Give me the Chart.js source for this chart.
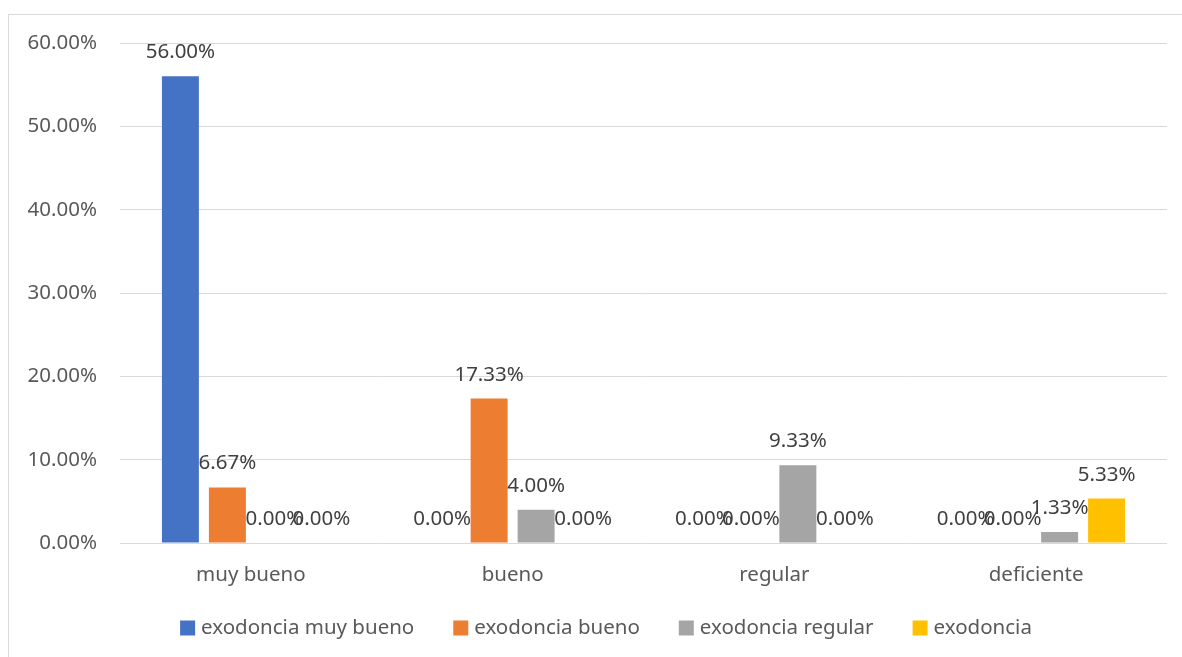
<!DOCTYPE html>
<html>
<head>
<meta charset="utf-8">
<script src="https://cdn.jsdelivr.net/npm/chart.js@4.4.0/dist/chart.umd.min.js"></script>
<style>
  html, body { margin: 0; padding: 0; background: #fff; }
  #wrap { width: 1182px; height: 657px; position: relative; }
</style>
</head>
<body>
<div id="wrap"><canvas id="grafica" width="1182" height="657"></canvas></div>
<script>
// datos
const categorias = ['muy bueno', 'bueno', 'regular', 'deficiente'];
const serieMuyBueno = [56.00, 0, 0, 0];
const serieBueno = [6.67, 17.33, 0, 0];
const serieRegular = [0, 4.00, 9.33, 1.33];
const serieExodoncia = [0, 0, 0, 5.33];
const nombres = ['exodoncia muy bueno', 'exodoncia bueno', 'exodoncia regular', 'exodoncia'];
const colores = ['#4472C4', '#ED7D31', '#A5A5A5', '#FFC000'];
const ticksY = [0, 10, 20, 30, 40, 50, 60];

const FUENTE = '"Noto Sans", "Open Sans", sans-serif';
const TAM = 20.5;

// borde exterior del gráfico
const bordePlugin = {
  id: 'borde',
  beforeDraw(chart) {
    const ctx = chart.ctx;
    ctx.save();
    ctx.strokeStyle = '#d9d9d9';
    ctx.lineWidth = 1;
    ctx.strokeRect(8.5, 14.5, 1200, 700);
    ctx.restore();
  }
};

// etiquetas de valor encima de cada barra
const etiquetasPlugin = {
  id: 'etiquetas',
  afterDatasetsDraw(chart) {
    const ctx = chart.ctx;
    ctx.save();
    ctx.font = TAM + 'px ' + FUENTE;
    ctx.fillStyle = '#404040';
    ctx.textAlign = 'center';
    ctx.textBaseline = 'alphabetic';
    chart.data.datasets.forEach((ds, i) => {
      chart.getDatasetMeta(i).data.forEach((bar, j) => {
        ctx.fillText(ds.data[j].toFixed(2) + '%', bar.x, bar.y - 18);
      });
    });
    ctx.restore();
  }
};

// leyenda abajo, al estilo de Excel
const leyendaPlugin = {
  id: 'leyenda',
  afterDraw(chart) {
    const ctx = chart.ctx;
    ctx.save();
    ctx.font = TAM + 'px ' + FUENTE;
    const caja = 15, hueco = 6, sep = 39;
    const anchos = nombres.map(n => ctx.measureText(n).width);
    const total = anchos.reduce((a, w) => a + caja + hueco + w, 0) + sep * (nombres.length - 1);
    let x = 606 - total / 2;
    const y = 628;
    ctx.textBaseline = 'middle';
    ctx.textAlign = 'left';
    nombres.forEach((n, i) => {
      ctx.fillStyle = colores[i];
      ctx.fillRect(x, y - caja / 2, caja, caja);
      ctx.fillStyle = '#595959';
      ctx.fillText(n, x + caja + hueco, y);
      x += caja + hueco + anchos[i] + sep;
    });
    ctx.restore();
  }
};

const series = [serieMuyBueno, serieBueno, serieRegular, serieExodoncia];

new Chart(document.getElementById('grafica').getContext('2d'), {
  type: 'bar',
  data: {
    labels: categorias,
    datasets: series.map((s, i) => ({
      label: nombres[i],
      data: s,
      backgroundColor: colores[i],
      borderWidth: 0,
      categoryPercentage: 0.718,
      barPercentage: 0.787
    }))
  },
  options: {
    responsive: false,
    animation: false,
    layout: { padding: { left: 8, right: 15, top: 43, bottom: 0 } },
    plugins: {
      legend: { display: false },
      tooltip: { enabled: false }
    },
    scales: {
      x: {
        grid: { display: false },
        border: { display: false },
        ticks: { color: '#595959', font: { family: FUENTE, size: TAM }, padding: 12 },
        afterFit: s => { s.height = 114; }
      },
      y: {
        min: 0,
        max: 60,
        afterBuildTicks: s => { s.ticks = ticksY.map(v => ({ value: v })); },
        grid: { color: '#d9d9d9', drawTicks: false },
        border: { display: false },
        ticks: {
          color: '#595959',
          font: { family: FUENTE, size: TAM },
          padding: 23,
          callback: v => v.toFixed(2) + '%'
        },
        afterFit: s => { s.width = 112; }
      }
    }
  },
  plugins: [bordePlugin, etiquetasPlugin, leyendaPlugin]
});
</script>
</body>
</html>
